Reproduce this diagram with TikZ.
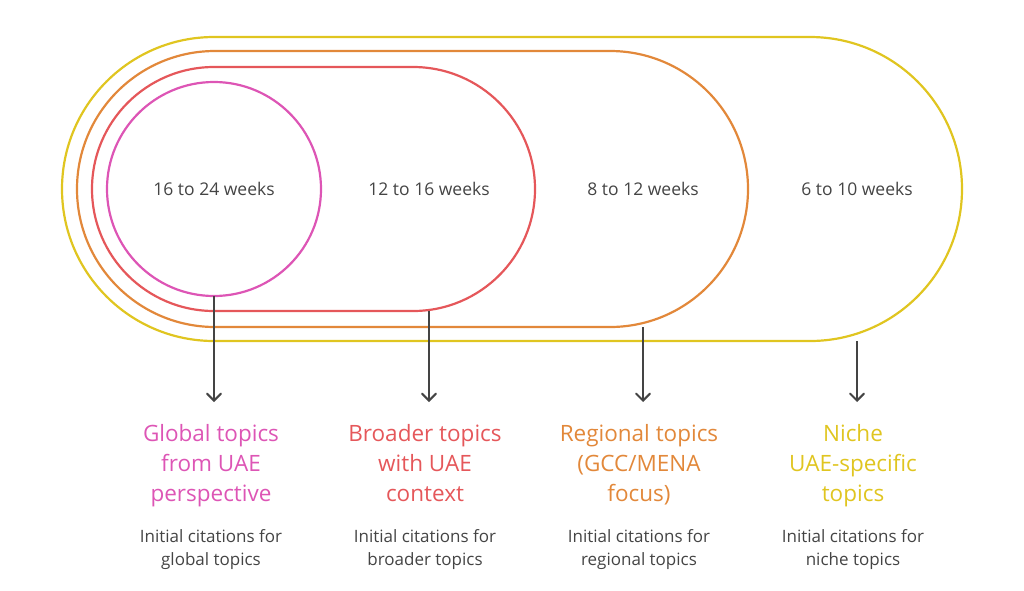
\documentclass[tikz,border=0pt]{standalone}
\usepackage{fontspec}
\setmainfont{Open Sans}
\usetikzlibrary{arrows.meta}
\definecolor{cpink}{HTML}{DD55B5}
\definecolor{cred}{HTML}{E5575A}
\definecolor{corange}{HTML}{E2883A}
\definecolor{cyellow}{HTML}{E0C520}
\definecolor{cgray}{HTML}{444444}
\begin{document}
\begin{tikzpicture}[x=1pt,y=-1pt,
  ring/.style={line width=2.2pt},
  wk/.style={font=\fontsize{17.5}{20}\selectfont, text=cgray},
  head/.style={font=\fontsize{22.5}{30}\selectfont, align=center, anchor=north},
  sub/.style={font=\fontsize{17}{22.5}\selectfont, text=cgray, align=center, anchor=north},
  arr/.style={-{Straight Barb[length=7pt,width=14pt,line cap=round]}, line width=2pt, draw=cgray}]
\useasboundingbox (0,0) rectangle (1024,590);
\draw[ring, cyellow, rounded corners=152pt] (62,37) rectangle (962,341);
\draw[ring, corange, rounded corners=138pt] (77,51) rectangle (748,327);
\draw[ring, cred, rounded corners=122pt] (92,67) rectangle (535,311);
\draw[ring, cpink] (214,189) circle (107);
\node[wk] (w1) at (214,189) {16 to 24 weeks};
\node[wk] (w2) at (429,189) {12 to 16 weeks};
\node[wk] (w3) at (643,189) {8 to 12 weeks};
\node[wk] (w4) at (857,189) {6 to 10 weeks};
\coordinate (s1) at (214,296);
\coordinate (s2) at (429,311);
\coordinate (s3) at (643,327);
\coordinate (s4) at (857,341);
\coordinate (e1) at (214,402);
\coordinate (e2) at (429,402);
\coordinate (e3) at (643,402);
\coordinate (e4) at (857,402);
\draw[arr] (s1) -- (e1);
\draw[arr] (s2) -- (e2);
\draw[arr] (s3) -- (e3);
\draw[arr] (s4) -- (e4);
\node[head, text=cpink] (h1) at (211,421) {Global topics\\from UAE\\perspective};
\node[head, text=cred] (h2) at (425,421) {Broader topics\\with UAE\\context};
\node[head, text=corange] (h3) at (639,421) {Regional topics\\(GCC/MENA\\focus)};
\node[head, text=cyellow] (h4) at (853,421) {Niche\\UAE-specific\\topics};
\node[sub] (d1) at (211,526) {Initial citations for\\global topics};
\node[sub] (d2) at (425,526) {Initial citations for\\broader topics};
\node[sub] (d3) at (639,526) {Initial citations for\\regional topics};
\node[sub] (d4) at (853,526) {Initial citations for\\niche topics};
\end{tikzpicture}
\end{document}
